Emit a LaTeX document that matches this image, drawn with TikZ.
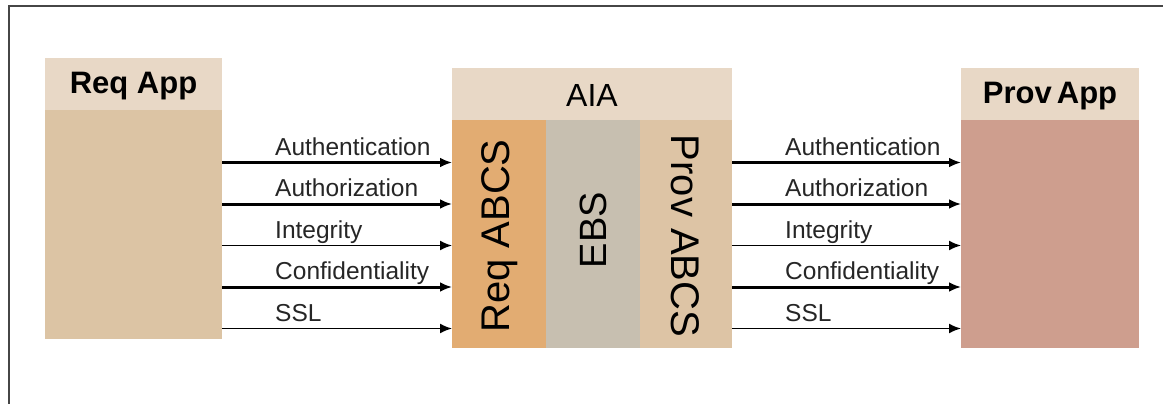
\documentclass[tikz,border=0pt]{standalone}
\usepackage{fontspec}
\setmainfont{Liberation Sans}
\usetikzlibrary{arrows.meta}
\definecolor{hdr}{RGB}{232,216,198}
\definecolor{reqbody}{RGB}{220,196,164}
\definecolor{reqabcs}{RGB}{226,172,114}
\definecolor{ebs}{RGB}{199,191,176}
\definecolor{provabcs}{RGB}{221,196,165}
\definecolor{provbody}{RGB}{206,158,142}
\definecolor{frame}{RGB}{70,70,70}
\begin{document}
\begin{tikzpicture}[x=1pt,y=-1pt,
  box/.style={draw=none, inner sep=0pt, outer sep=0pt, anchor=north west},
  hdrtext/.style={font=\fontsize{31}{34}\selectfont\bfseries},
  vtext/.style={font=\fontsize{40}{44}\selectfont},
  thickarr/.style={line width=3pt, -{Latex[length=12pt,width=10pt]}},
  thinarr/.style={line width=1.7pt, -{Latex[length=12pt,width=10pt]}},
  lbl/.style={anchor=base west, inner sep=0pt, font=\fontsize{24.5}{28}\selectfont, text=black!85}]
\useasboundingbox (0,0) rectangle (1163,404);
\fill[white] (0,0) rectangle (1163,404);
\draw[frame, line width=2pt] (9,404) -- (9,6) -- (1163,6);

% Req App
\node[box, fill=hdr, minimum width=177pt, minimum height=52pt] (reqh) at (45,58) {};
\node[box, fill=reqbody, minimum width=177pt, minimum height=229pt] (reqb) at (45,110) {};
\node[hdrtext] (reqht) at ([yshift=-2pt]reqh.center) {Req App};

% AIA
\node[box, fill=hdr, minimum width=280pt, minimum height=52pt] (aiah) at (452,68) {};
\node[font=\fontsize{32}{36}\selectfont] (aiat) at ([yshift=-1pt]aiah.center) {AIA};
\node[box, fill=reqabcs, minimum width=94pt, minimum height=228pt] (rabcs) at (452,120) {};
\node[box, fill=ebs, minimum width=94pt, minimum height=228pt] (ebs) at (546,120) {};
\node[box, fill=provabcs, minimum width=92pt, minimum height=228pt] (pabcs) at (640,120) {};
\node[vtext, rotate=90] (rabcst) at ([xshift=1pt,yshift=-2pt]rabcs.center) {Req ABCS};
\node[vtext, font=\fontsize{38}{42}\selectfont, rotate=90] (ebst) at ([yshift=4pt]ebs.center) {EBS};
\node[vtext, rotate=-90] (pabcst) at ([xshift=-1pt,yshift=-2pt]pabcs.center) {Prov ABCS};

% Prov App
\node[box, fill=hdr, minimum width=178pt, minimum height=52pt] (provh) at (961,68) {};
\node[box, fill=provbody, minimum width=178pt, minimum height=228pt] (provb) at (961,120) {};
\node[hdrtext] (provht) at ([yshift=-2pt]provh.center) {Prov\,App};

% arrow rows
\coordinate (r1) at (0,162.5);
\coordinate (r2) at (0,204);
\coordinate (r3) at (0,245.5);
\coordinate (r4) at (0,287);
\coordinate (r5) at (0,328.5);

\draw[thickarr] (reqb.east |- r1) -- (rabcs.west |- r1);
\draw[thickarr] (reqb.east |- r2) -- (rabcs.west |- r2);
\draw[thinarr]  (reqb.east |- r3) -- (rabcs.west |- r3);
\draw[thickarr] (reqb.east |- r4) -- (rabcs.west |- r4);
\draw[thinarr]  (reqb.east |- r5) -- (rabcs.west |- r5);

\draw[thickarr] (pabcs.east |- r1) -- (provb.west |- r1);
\draw[thickarr] (pabcs.east |- r2) -- (provb.west |- r2);
\draw[thinarr]  (pabcs.east |- r3) -- (provb.west |- r3);
\draw[thickarr] (pabcs.east |- r4) -- (provb.west |- r4);
\draw[thinarr]  (pabcs.east |- r5) -- (provb.west |- r5);

% labels left
\node[lbl] (la1) at (275,155) {Authentication};
\node[lbl] (la2) at (275,196.5) {Authorization};
\node[lbl] (la3) at (275,238) {Integrity};
\node[lbl] (la4) at (275,279.5) {Confidentiality};
\node[lbl] (la5) at (275,321) {SSL};
% labels right
\node[lbl] (lb1) at (785,155) {Authentication};
\node[lbl] (lb2) at (785,196.5) {Authorization};
\node[lbl] (lb3) at (785,238) {Integrity};
\node[lbl] (lb4) at (785,279.5) {Confidentiality};
\node[lbl] (lb5) at (785,321) {SSL};
\end{tikzpicture}
\end{document}
